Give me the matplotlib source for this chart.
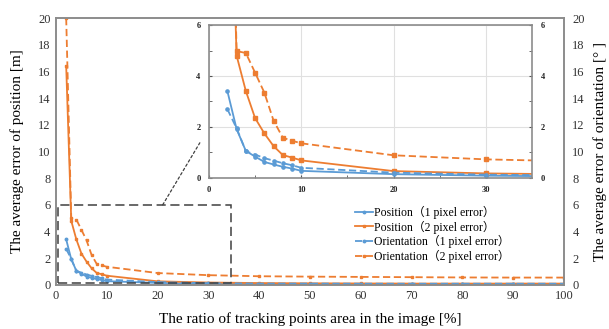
import matplotlib
matplotlib.use("Agg")
import matplotlib.pyplot as plt
from matplotlib.patches import Rectangle, ConnectionPatch

plt.rcParams['font.family'] = ['Liberation Serif', 'Noto Sans CJK SC', 'DejaVu Sans']

x = [2, 3, 4, 5, 6, 7, 8, 9, 10, 20, 30, 40, 50, 60, 70, 80, 90, 100]
pos1 = [3.41, 1.92, 1.06, 0.84, 0.63, 0.53, 0.44, 0.37, 0.28, 0.15, 0.09, 0.06, 0.05, 0.05, 0.05, 0.05, 0.05, 0.05]
pos2 = [16.4, 4.8, 3.41, 2.35, 1.75, 1.25, 0.9, 0.8, 0.69, 0.27, 0.18, 0.14, 0.12, 0.11, 0.1, 0.1, 0.1, 0.1]
ori1 = [2.7, 1.95, 1.05, 0.92, 0.78, 0.68, 0.58, 0.5, 0.4, 0.21, 0.13, 0.1, 0.1, 0.09, 0.09, 0.09, 0.09, 0.09]
ori2 = [20.0, 4.98, 4.9, 4.13, 3.35, 2.25, 1.58, 1.46, 1.36, 0.89, 0.73, 0.65, 0.62, 0.6, 0.58, 0.56, 0.55, 0.55]

labels = ['Position（1 pixel error）', 'Position（2 pixel error）',
          'Orientation（1 pixel error）', 'Orientation（2 pixel error）']
blue = '#5B9BD5'
orange = '#ED7D31'
spine_c = '#8C8C8C'

fig = plt.figure(figsize=(6.09, 3.29), dpi=100)
ax = fig.add_axes([0.092, 0.134, 0.834, 0.811])

def draw(a, ms):
    l1, = a.plot(x, pos1, '-', color=blue, lw=1.3, marker='o', ms=ms)
    l2, = a.plot(x, pos2, '-', color=orange, lw=1.3, marker='s', ms=ms)
    l3, = a.plot(x, ori1, '--', color=blue, lw=1.3, marker='o', ms=ms, dashes=(4, 2))
    l4, = a.plot(x, ori2, '--', color=orange, lw=1.3, marker='s', ms=ms, dashes=(4, 2))
    return [l1, l2, l3, l4]

lines = draw(ax, 1.8)
ax.set_xlim(0, 100)
ax.set_ylim(0, 20)
ax.set_xticks(range(0, 101, 10))
ax.set_yticks(range(0, 21, 2))
ax.tick_params(labelsize=9, length=0, colors='#333333', pad=4)
for s in ax.spines.values():
    s.set_color(spine_c)
    s.set_linewidth(1.2)
ax.set_xlabel('The ratio of tracking points area in the image [%]', fontsize=11, labelpad=7)
ax.set_ylabel('The average error of position [m]', fontsize=11, labelpad=10)

ax2 = ax.twinx()
ax2.set_ylim(0, 20)
ax2.set_yticks(range(0, 21, 2))
ax2.tick_params(labelsize=9, length=0, colors='#333333', pad=6)
for s in ax2.spines.values():
    s.set_color(spine_c)
    s.set_linewidth(1.2)
ax2.set_ylabel('The average error of orientation [° ]', fontsize=11, labelpad=6)

# zoom rectangle
ax.add_patch(Rectangle((0.3, 0.12), 34.2, 5.88, fill=False, ls=(0, (6, 3)),
                       ec='#404040', lw=1.1, zorder=5))

ax.legend(lines, labels, loc='upper left', bbox_to_anchor=(0.58, 0.315),
          frameon=False, fontsize=8.5, handlelength=1.5, handletextpad=0.1,
          labelspacing=0.15, borderaxespad=0)

# inset
ins = fig.add_axes([0.343, 0.459, 0.531, 0.465])
ins.set_zorder(ax2.get_zorder() + 1)
draw(ins, 2.3)
ins.set_xlim(0, 35)
ins.set_ylim(0, 6)
ins.set_xticks([0, 10, 20, 30])
ins.set_xticks([5, 15, 25], minor=True)
ins.set_yticks([0, 2, 4, 6])
ins.set_yticks([1, 3, 5], minor=True)
ins.grid(True, which='major', color='#E0E0E0', lw=0.8)
ins.set_axisbelow(True)
ins.tick_params(which='both', labelsize=6, length=2, direction='in', colors='#555555',
                right=True, labelright=True, pad=6)
for lab in ins.get_xticklabels() + ins.get_yticklabels():
    lab.set_fontweight('bold')
    lab.set_color('#222222')
for s in ins.spines.values():
    s.set_color(spine_c)
    s.set_linewidth(1.2)

con = ConnectionPatch(xyA=(21, 6), coordsA=ax.transData,
                      xyB=(-0.028, 0.23), coordsB=ins.transAxes,
                      ls=(0, (2, 2)), color='#404040', lw=0.9)
fig.add_artist(con)

fig.savefig('out.png', dpi=100)
